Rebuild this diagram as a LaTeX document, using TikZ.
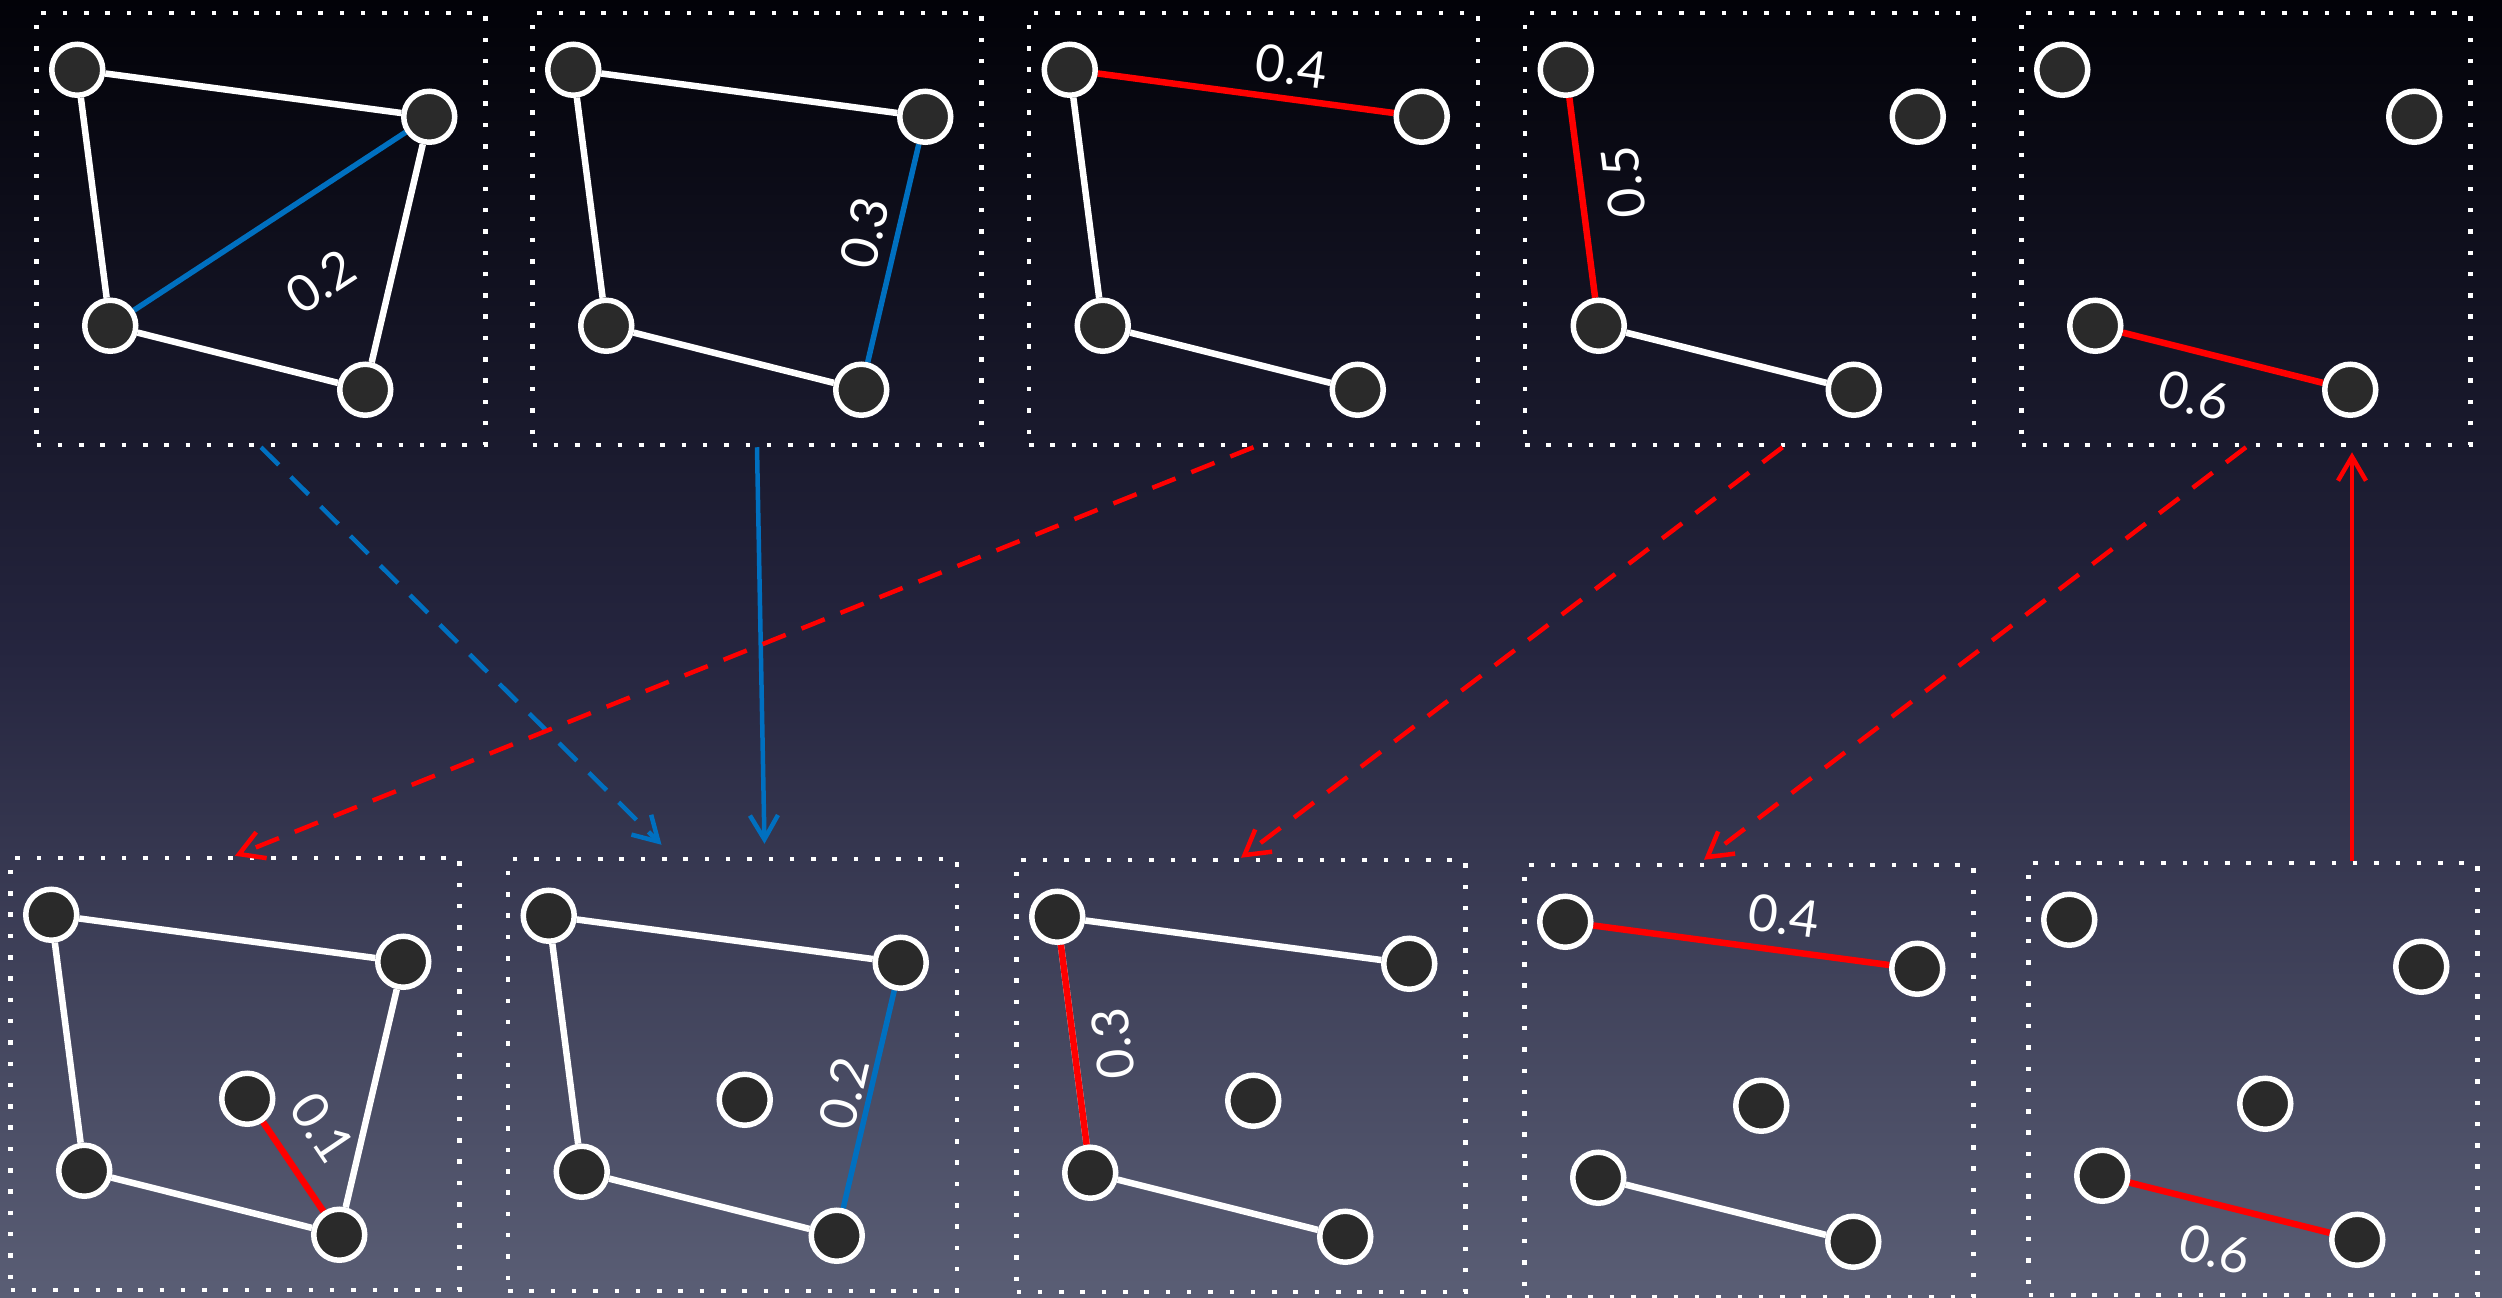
\documentclass[tikz,border=0pt]{standalone}
\usepackage{fontspec}
\setsansfont{Lato}
\usetikzlibrary{arrows.meta, positioning, calc}
\definecolor{cred}{HTML}{FF0000}
\definecolor{cblue}{HTML}{0070C0}
\definecolor{cdot}{HTML}{2A2A2A}
\definecolor{bgtop}{HTML}{020208}
\definecolor{bgmid}{HTML}{25253F}
\definecolor{bgbot}{HTML}{5A5E75}
\pgfdeclarelayer{back}
\pgfdeclarelayer{links}
\pgfsetlayers{back,links,main}
\tikzset{
  every picture/.style={font=\sffamily},
  panel/.style={draw=white, line width=0.45mm, dash pattern=on 0.45mm off 1.68mm, minimum width=44.9mm, minimum height=43.2mm, inner sep=0pt},
  dot/.style={circle, draw=white, fill=cdot, line width=0.55mm, minimum size=5.1mm, inner sep=0pt},
  link/.style={draw=#1, line width=0.65mm},
  link/.default=white,
  wt/.style={text=white, font={\sffamily\fontsize{14.5}{17}\selectfont}, inner sep=0pt, sloped},
  arrow/.style={draw=#1, line width=0.45mm, -{Straight Barb[length=2.4mm, width=2.8mm]}},
  dashline/.style={dash pattern=on 2.5mm off 1.7mm},
}

\begin{document}
\begin{tikzpicture}[x=0.1mm, y=-0.1mm]
  \begin{pgfonlayer}{back}
    \fill[top color=bgtop, bottom color=bgbot, middle color=bgmid] (0,0) rectangle (2502,1298);
  \end{pgfonlayer}
  \useasboundingbox (0,0) rectangle (2502,1298);
  % panels, top row and bottom row
  \foreach \i/\x in {1/261, 2/757, 3/1253.5, 4/1749.5, 5/2246}
    \node[panel] (t\i) at (\x,229) {};
  \foreach \i/\x/\y in {1/235/1074, 2/732.5/1075, 3/1241/1076, 4/1749/1081, 5/2253/1079}
    \node[panel] (b\i) at (\x,\y) {};
  % points
  \foreach \p in {t1,t2,t3,t4,t5,b1,b2,b3,b4,b5}
    \foreach \n/\dx/\dy in {a/43/59, b/395/106, c/76/315, d/331/379}
      \node[dot] (\p-\n) at ($(\p.north west)+(\dx,\dy)$) {};
  \foreach \p in {b1,b2,b3,b4,b5}
    \node[dot] (\p-e) at ($(\p.north west)+(239,243)$) {};
  \begin{pgfonlayer}{links}
    % white links
    \foreach \p in {t1,t2,t3,b1,b2,b3} \draw[link] (\p-a) -- (\p-c);
    \foreach \p in {t1,t2,b1,b2,b3} \draw[link] (\p-a) -- (\p-b);
    \foreach \p in {t1,t2,t3,t4,b1,b2,b3,b4} \draw[link] (\p-c) -- (\p-d);
    \foreach \p in {t1,b1} \draw[link] (\p-b) -- (\p-d);
    % weighted links
    \draw[link=cblue, line width=0.55mm] (t1-c) -- node[wt, below=5.7mm, pos=0.53] {0.2} (t1-b);
    \draw[link=cblue, line width=0.55mm] (t2-d) -- node[wt, above=1.1mm, pos=0.56] {0.3} (t2-b);
    \draw[link=cred] (t3-a) -- node[wt, above=1.1mm, pos=0.64] {0.4} (t3-b);
    \draw[link=cred] (t4-c) -- node[wt, below=2.1mm, pos=0.55, allow upside down] {0.5} (t4-a);
    \draw[link=cred] (t5-c) -- node[wt, below=2.2mm, pos=0.41] {0.6} (t5-d);
    \draw[link=cred] (b1-e) -- node[wt, above=2.4mm, pos=0.35] {0.1} (b1-d);
    \draw[link=cblue, line width=0.55mm] (b2-d) -- node[wt, above=0.4mm, pos=0.5] {0.2} (b2-b);
    \draw[link=cred] (b3-c) -- node[wt, below=1.7mm, pos=0.48, allow upside down] {0.3} (b3-a);
    \draw[link=cred] (b4-a) -- node[wt, above=1.3mm, pos=0.63] {0.4} (b4-b);
    \draw[link=cred] (b5-c) -- node[wt, below=2.2mm, pos=0.48] {0.6} (b5-d);
  \end{pgfonlayer}
  % arrows between the rows
  \coordinate (b2in1) at ($(b2.north)+(-71,-12)$);
  \coordinate (b2in2) at ($(b2.north)+(32,-13)$);
  \coordinate (t4out) at ($(t4.south)+(33,0)$);
  \coordinate (b4in) at ($(b4.north)+(-45,-3)$);
  \coordinate (b5out) at ($(b5.north)+(99,0)$);
  \draw[arrow=cblue, dashline] (t1.south) -- (b2in1);
  \draw[arrow=cblue] (t2.south) -- (b2in2);
  \draw[arrow=cred, dashline] (t3.south) -- (b1.north);
  \draw[arrow=cred, dashline] (t4out) -- (b3.north);
  \draw[arrow=cred, dashline] (t5.south) -- (b4in);
  \draw[arrow=cred, shorten >=0.5mm] (b5out) -- (b5out |- t5.south);
\end{tikzpicture}
\end{document}
